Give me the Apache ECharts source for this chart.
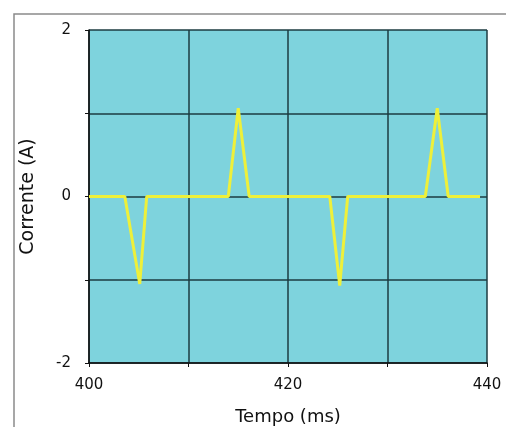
<!DOCTYPE html>
<html>
<head>
<meta charset="utf-8">
<script src="https://cdn.jsdelivr.net/npm/echarts@6/dist/echarts.min.js"></script>
<style>
  html, body { margin: 0; padding: 0; background: #fff; }
  #chart { width: 506px; height: 427px; }
</style>
</head>
<body>
<div id="chart"></div>
<script>
// tempo (ms) e corrente (A)
var tempo = [400, 403.6, 405.1, 405.8, 414.0, 415.0, 416.1, 424.2, 425.2, 426.0, 433.8, 435.0, 436.1, 439.3];
var corrente = [0, 0, -1.05, 0, 0, 1.06, 0, 0, -1.07, 0, 0, 1.06, 0, 0];
var xLabels = [400, 420, 440];
var yLabels = [-2, 0, 2];

var font = "'DejaVu Sans', sans-serif";
var gridLine = { show: true, lineStyle: { color: '#1d3b40', width: 1.5 } };

var chart = echarts.init(document.getElementById('chart'));
chart.setOption({
  animation: false,
  graphic: [{
    type: 'rect',
    shape: { x: 14, y: 14, width: 520, height: 440 },
    style: { fill: 'none', stroke: '#8a8a8a', lineWidth: 1.5 },
    z: -10
  }],
  grid: {
    left: 89, right: 19, top: 30, bottom: 64,
    containLabel: false, outerBoundsMode: 'none',
    show: true, backgroundColor: '#7ed3dd', borderWidth: 0
  },
  xAxis: {
    type: 'value', min: 400, max: 440, interval: 10,
    name: 'Tempo (ms)', nameLocation: 'middle', nameGap: 45,
    nameTextStyle: { fontFamily: font, fontSize: 18, color: '#111' },
    axisLine: { show: true, onZero: false, lineStyle: { color: '#111', width: 1.5 } },
    axisTick: { show: true, length: 4, lineStyle: { color: '#111' } },
    axisLabel: {
      fontFamily: font, fontSize: 15, color: '#111', margin: 15,
      formatter: function (v) { return xLabels.indexOf(v) >= 0 ? String(v) : ''; }
    },
    splitLine: gridLine
  },
  yAxis: {
    type: 'value', min: -2, max: 2, interval: 1,
    name: 'Corrente (A)', nameLocation: 'middle', nameGap: 51,
    nameTextStyle: { fontFamily: font, fontSize: 19, color: '#111' },
    axisLine: { show: true, lineStyle: { color: '#111', width: 1.5 } },
    axisTick: { show: true, length: 4, lineStyle: { color: '#111' } },
    axisLabel: {
      fontFamily: font, fontSize: 15, color: '#111', margin: 18,
      formatter: function (v) { return yLabels.indexOf(v) >= 0 ? String(v) : ''; }
    },
    splitLine: gridLine
  },
  series: [{
    type: 'line',
    data: tempo.map(function (t, i) { return [t, corrente[i]]; }),
    showSymbol: false,
    lineStyle: { color: '#eef03a', width: 3 },
    z: 5
  }]
});
</script>
</body>
</html>
